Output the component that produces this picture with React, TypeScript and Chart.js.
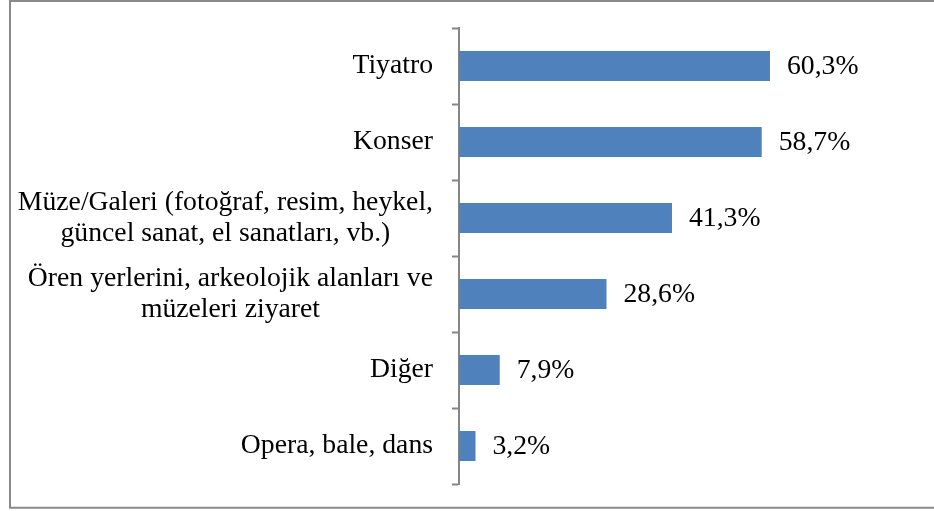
import React, { useEffect, useRef } from "react";
import { Chart, registerables } from "chart.js";

Chart.register(...registerables);

const categories: string[][] = [
  ["Tiyatro"],
  ["Konser"],
  ["Müze/Galeri (fotoğraf, resim, heykel,", "güncel sanat, el sanatları, vb.)"],
  ["Ören yerlerini, arkeolojik alanları ve", "müzeleri ziyaret"],
  ["Diğer"],
  ["Opera, bale, dans"],
];
const values: number[] = [60.3, 58.7, 41.3, 28.6, 7.9, 3.2];

const FONT = '27.7px "Liberation Serif", "Times New Roman", serif';
const BAR_COLOR = "#4F81BD";
const AXIS_COLOR = "#868686";
const FRAME_COLOR = "#8a8a8a";

const framePlugin = {
  id: "frame",
  beforeDraw(chart: any) {
    const ctx = chart.ctx;
    ctx.save();
    ctx.fillStyle = "#ffffff";
    ctx.fillRect(0, 0, chart.width, chart.height);
    ctx.strokeStyle = FRAME_COLOR;
    ctx.lineWidth = 2;
    ctx.beginPath();
    ctx.moveTo(chart.width + 5, 1);
    ctx.lineTo(10, 1);
    ctx.lineTo(10, 507.7);
    ctx.lineTo(chart.width + 5, 507.7);
    ctx.stroke();
    ctx.restore();
  },
};

const labelsPlugin = {
  id: "customLabels",
  afterDraw(chart: any) {
    const ctx = chart.ctx;
    const yScale = chart.scales.y;
    const meta = chart.getDatasetMeta(0);
    ctx.save();
    ctx.font = FONT;
    ctx.fillStyle = "#000000";
    ctx.textBaseline = "middle";
    // category labels
    const rightEdge = yScale.right - 26;
    const lineH = 31.5;
    categories.forEach((lines, i) => {
      const cy = yScale.getPixelForValue(i);
      const maxW = Math.max(...lines.map((l) => ctx.measureText(l).width));
      const cx = rightEdge - maxW / 2;
      ctx.textAlign = "center";
      lines.forEach((line, j) => {
        const y = cy + (j - (lines.length - 1) / 2) * lineH;
        ctx.fillText(line, cx, y);
      });
    });
    // value labels
    ctx.textAlign = "left";
    meta.data.forEach((bar: any, i: number) => {
      const txt = values[i].toFixed(1).replace(".", ",") + "%";
      ctx.fillText(txt, bar.x + 17, bar.y + 1);
    });
    ctx.restore();
  },
};

export default function App() {
  const canvasRef = useRef<HTMLCanvasElement | null>(null);

  useEffect(() => {
    document.body.style.margin = "0";
    const canvas = canvasRef.current;
    if (!canvas) return;
    const chart = new Chart(canvas, {
      type: "bar",
      data: {
        labels: categories.map((c) => c.join(" ")),
        datasets: [
          {
            data: values,
            backgroundColor: BAR_COLOR,
            borderWidth: 0,
            barPercentage: 30 / 76,
            categoryPercentage: 1,
          },
        ],
      },
      options: {
        indexAxis: "y",
        animation: false,
        responsive: false,
        maintainAspectRatio: false,
        devicePixelRatio: 1,
        layout: { padding: { left: 0, right: 114, top: 28, bottom: 27 } },
        plugins: {
          legend: { display: false },
          tooltip: { enabled: false },
          title: { display: false },
        },
        scales: {
          x: {
            display: false,
            min: 0,
            max: 70,
          },
          y: {
            position: "left",
            offset: true,
            grid: {
              display: true,
              drawOnChartArea: false,
              drawTicks: true,
              tickLength: 7,
              tickWidth: 2,
              tickColor: AXIS_COLOR,
              offset: true,
            },
            border: { display: true, color: AXIS_COLOR, width: 2 },
            ticks: { display: false },
            afterFit: (scale: any) => {
              scale.width = 459;
            },
          },
        },
      },
      plugins: [framePlugin, labelsPlugin],
    });
    return () => chart.destroy();
  }, []);

  return (
    <div style={{ width: 934, height: 511 }}>
      <canvas ref={canvasRef} width={934} height={511} style={{ display: "block" }} />
    </div>
  );
}
